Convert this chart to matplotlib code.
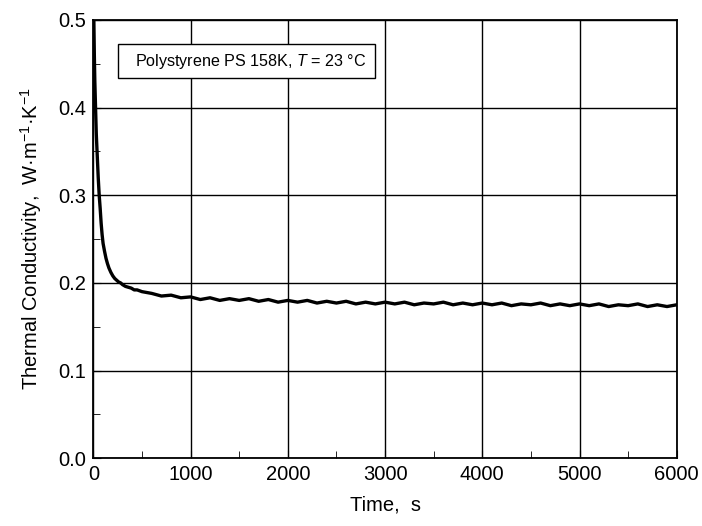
import matplotlib.pyplot as plt
from matplotlib.patches import Rectangle
import numpy as np

plt.rcParams['font.family'] = ['Liberation Sans', 'DejaVu Sans']
plt.rcParams['mathtext.fontset'] = 'custom'
plt.rcParams['mathtext.rm'] = 'Liberation Sans'
plt.rcParams['mathtext.it'] = 'Liberation Sans:italic'

# measured thermal conductivity vs time
time_s = [5, 10, 15, 20, 25, 30, 40, 50, 60, 70, 80, 90, 100, 115, 130, 145,
          160, 180, 200, 220, 240, 260, 280, 300, 330, 360, 390, 420, 450, 500,
          550, 600, 700, 800, 900, 1000, 1100, 1200, 1300, 1400, 1500, 1600,
          1700, 1800, 1900, 2000, 2100, 2200, 2300, 2400, 2500, 2600, 2700,
          2800, 2900, 3000, 3100, 3200, 3300, 3400, 3500, 3600, 3700, 3800,
          3900, 4000, 4100, 4200, 4300, 4400, 4500, 4600, 4700, 4800, 4900,
          5000, 5100, 5200, 5300, 5400, 5500, 5600, 5700, 5800, 5900, 6000]
conductivity = [0.500, 0.460, 0.430, 0.410, 0.390, 0.370, 0.345, 0.320, 0.300,
                0.285, 0.268, 0.255, 0.245, 0.236, 0.228, 0.222, 0.217, 0.212,
                0.208, 0.205, 0.203, 0.201, 0.200, 0.198, 0.196, 0.195, 0.194,
                0.192, 0.192, 0.190, 0.189, 0.188, 0.185, 0.186, 0.183, 0.184,
                0.181, 0.183, 0.180, 0.182, 0.180, 0.182, 0.179, 0.181, 0.178,
                0.180, 0.178, 0.180, 0.177, 0.179, 0.177, 0.179, 0.176, 0.178,
                0.176, 0.178, 0.176, 0.178, 0.175, 0.177, 0.176, 0.178, 0.175,
                0.177, 0.175, 0.177, 0.175, 0.177, 0.174, 0.176, 0.175, 0.177,
                0.174, 0.176, 0.174, 0.176, 0.174, 0.176, 0.173, 0.175, 0.174,
                0.176, 0.173, 0.175, 0.173, 0.175]

fig = plt.figure(figsize=(7.02, 5.26), dpi=100)
ax = fig.add_axes([0.133, 0.129, 0.831, 0.833])

ax.plot(time_s, conductivity, color='black', lw=2.4, zorder=3)

ax.set_xlim(0, 6000)
ax.set_ylim(0, 0.5)
ax.set_xticks(np.arange(0, 6001, 1000))
ax.set_xticks(np.arange(0, 6001, 500), minor=True)
ax.set_yticks(np.arange(0, 0.51, 0.1))
ax.set_yticks(np.arange(0, 0.51, 0.05), minor=True)
ax.yaxis.set_major_formatter(plt.FormatStrFormatter('%.1f'))
ax.grid(True, which='major', color='black', lw=1.0)
ax.tick_params(which='both', direction='in', labelsize=14.5, color='black')
ax.tick_params(which='major', length=6, pad=5)
ax.tick_params(which='minor', length=5)
for sp in ax.spines.values():
    sp.set_linewidth(1.3)

ax.set_xlabel('Time,  s', fontsize=14.5)
ax.xaxis.set_label_coords(0.5, -0.085)
ax.set_ylabel('Thermal Conductivity,  W·m$^{-1}$·K$^{-1}$', fontsize=14.5)
ax.yaxis.set_label_coords(-0.085, 0.5)

ax.add_patch(Rectangle((0.043, 0.868), 0.439, 0.078, transform=ax.transAxes,
                       facecolor='white', edgecolor='black', lw=1.0, zorder=4))
ax.text(0.072, 0.906, 'Polystyrene PS 158K, $T$ = 23 °C', transform=ax.transAxes,
        fontsize=11.6, va='center', ha='left', zorder=5)

fig.savefig('out.png', dpi=100)
